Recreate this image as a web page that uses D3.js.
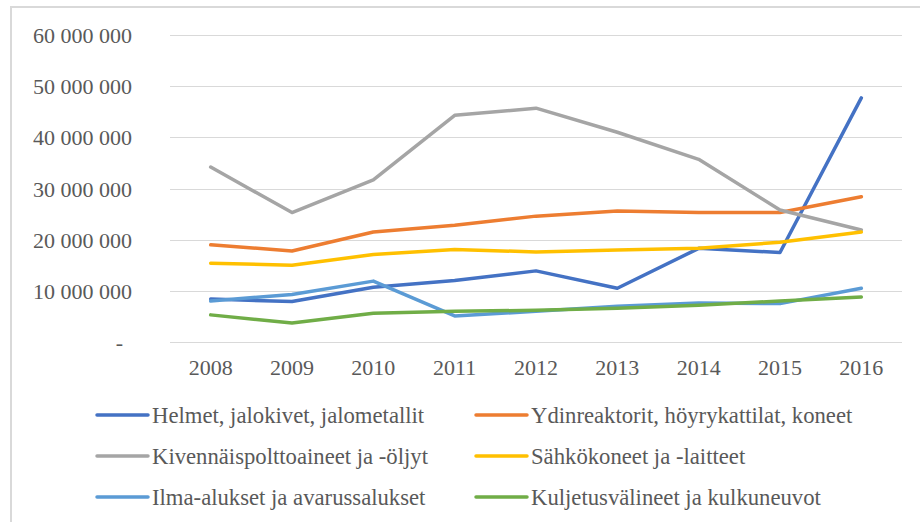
<!DOCTYPE html>
<html>
<head>
<meta charset="utf-8">
<script src="https://cdn.jsdelivr.net/npm/d3@7"></script>
<style>
    body { margin: 0; background: #fff; }
</style>
</head>
<body>
<div class="chart"></div>
<script>
var years = ['2008', '2009', '2010', '2011', '2012', '2013', '2014', '2015', '2016'];
var yTicks = [0, 10000000, 20000000, 30000000, 40000000, 50000000, 60000000];

var helmet = [8.4e6, 7.9e6, 10.7e6, 12.0e6, 13.9e6, 10.5e6, 18.3e6, 17.5e6, 47.7e6];
var ydinreaktorit = [19.0e6, 17.8e6, 21.5e6, 22.8e6, 24.6e6, 25.6e6, 25.3e6, 25.3e6, 28.4e6];
var kivennais = [34.2e6, 25.3e6, 31.7e6, 44.3e6, 45.7e6, 41.0e6, 35.7e6, 25.8e6, 21.9e6];
var sahko = [15.4e6, 15.0e6, 17.1e6, 18.1e6, 17.6e6, 18.0e6, 18.3e6, 19.5e6, 21.5e6];
var ilma = [8.0e6, 9.3e6, 11.9e6, 5.1e6, 6.0e6, 7.0e6, 7.6e6, 7.5e6, 10.5e6];
var kuljetus = [5.3e6, 3.7e6, 5.6e6, 6.0e6, 6.2e6, 6.6e6, 7.2e6, 8.0e6, 8.8e6];

var seriesNames = ['Helmet, jalokivet, jalometallit', 'Ydinreaktorit, höyrykattilat, koneet',
    'Kivennäispolttoaineet ja -öljyt', 'Sähkökoneet ja -laitteet',
    'Ilma-alukset ja avarussalukset', 'Kuljetusvälineet ja kulkuneuvot'];
var seriesValues = [helmet, ydinreaktorit, kivennais, sahko, ilma, kuljetus];
var colors = ['#4472c4', '#ed7d31', '#a5a5a5', '#ffc000', '#5b9bd5', '#70ad47'];

var width = 920, height = 522;
var font = "'Liberation Serif', 'Times New Roman', serif";
var svg = d3.select('.chart').append('svg').attr('width', width).attr('height', height)
    .style('font-family', font);

// frame
svg.append('rect').attr('x', 11).attr('y', 7).attr('width', 1000).attr('height', 600)
    .attr('fill', 'none').attr('stroke', '#d9d9d9').attr('stroke-width', 2);

var x = d3.scaleBand().domain(years).range([170, 902]);
var y = d3.scaleLinear().domain([0, 60000000]).range([342, 35]);

var fmt = function (d) {
    return d === 0 ? '-' : d3.format(',')(d).replace(/,/g, ' ');
};

svg.append('g').selectAll('line').data(yTicks).enter().append('line')
    .attr('x1', 170).attr('x2', 902)
    .attr('y1', function (d) { return Math.round(y(d)) + 0.5; })
    .attr('y2', function (d) { return Math.round(y(d)) + 0.5; })
    .attr('stroke', '#d9d9d9').attr('stroke-width', 1);

svg.append('g').selectAll('text').data(yTicks).enter().append('text')
    .attr('x', function (d) { return d === 0 ? 123 : 132; })
    .attr('y', function (d) { return y(d) + 8; })
    .attr('text-anchor', 'end').style('font-family', font).style('font-size', '22px').attr('fill', '#595959')
    .text(fmt);

svg.append('g').selectAll('text').data(years).enter().append('text')
    .attr('x', function (d) { return x(d) + x.bandwidth() / 2; })
    .attr('y', 375).attr('text-anchor', 'middle')
    .style('font-family', font).style('font-size', '22px').attr('fill', '#595959')
    .text(function (d) { return d; });

var line = d3.line()
    .x(function (d, i) { return x(years[i]) + x.bandwidth() / 2; })
    .y(function (d) { return y(d); });

svg.append('g').selectAll('path').data(seriesValues).enter().append('path')
    .attr('d', line).attr('fill', 'none')
    .attr('stroke', function (d, i) { return colors[i]; })
    .attr('stroke-width', 3.5).attr('stroke-linecap', 'round').attr('stroke-linejoin', 'round');

// legend, two columns
var legend = svg.append('g').selectAll('g').data(seriesNames).enter().append('g')
    .attr('transform', function (d, i) {
        return 'translate(' + (i % 2 ? 476 : 97) + ',' + [415, 456, 497][Math.floor(i / 2)] + ')';
    });
legend.append('line').attr('x1', 0).attr('x2', 51).attr('y1', 0).attr('y2', 0)
    .attr('stroke', function (d, i) { return colors[i]; })
    .attr('stroke-width', 3.5).attr('stroke-linecap', 'round');
legend.append('text').attr('x', 55).attr('y', 8)
    .style('font-family', font).style('font-size', '22.7px').attr('fill', '#595959')
    .text(function (d) { return d; });
</script>
</body>
</html>
